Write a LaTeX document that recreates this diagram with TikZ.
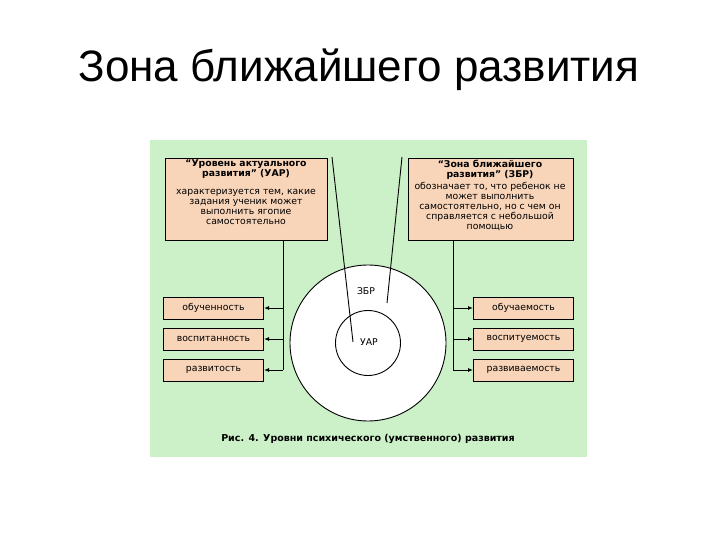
\documentclass[tikz,border=0pt]{standalone}
\usepackage{fontspec}
\setmainfont{Liberation Sans}
\newfontfamily\dv{DejaVu Sans}
\usetikzlibrary{arrows.meta}
\begin{document}
\begin{tikzpicture}[x=1pt,y=-1pt,
  bx/.style={draw,line width=1pt,fill=boxc,inner sep=0pt},
  sm/.style={bx,minimum width=100pt,minimum height=22pt,font=\dv\fontsize{9.3}{10}\selectfont},
  ln/.style={line width=0.9pt},
  ar/.style={ln,-{Latex[length=5pt,width=4pt]}}]
\definecolor{boxc}{RGB}{248,212,184}
\definecolor{grn}{RGB}{204,240,200}
\useasboundingbox (0,0) rectangle (720,540);
\fill[white] (0,0) rectangle (720,540);
\node (title) at (359,70) {\fontsize{44}{48}\selectfont Зона ближайшего развития};
\fill[grn] (150,140) rectangle (587,457);
\node[bx,minimum width=162pt,minimum height=82pt,anchor=north west] (L) at (165,158) {};
\node[bx,minimum width=165pt,minimum height=82pt,anchor=north west] (R) at (408,158) {};
\node[align=center,font=\dv\fontsize{9.3}{10}\selectfont,anchor=north,inner sep=0pt] (Lt) at (246,160)
 {\textbf{“Уровень актуального}\\\textbf{развития” (УАР)}\\[8pt]характеризуется тем, какие\\задания ученик может\\выполнить ягопие\\самостоятельно};
\node[align=center,font=\dv\fontsize{9.3}{10}\selectfont,anchor=north,inner sep=0pt] (Rt) at (490,160)
 {\textbf{“Зона ближайшего}\\\textbf{развития” (ЗБР)}\\[2pt]обозначает то, что ребенок не\\может выполнить\\самостоятельно, но с чем он\\справляется с небольшой\\помощью};
\node[draw,ln,fill=white,circle,minimum size=156pt,inner sep=0pt] (O) at (368,343) {};
\node[draw,ln,circle,minimum size=65pt,inner sep=0pt] (I) at (368,343) {};
\node[font=\dv\fontsize{9.3}{10}\selectfont] (zbr) at (366,291) {ЗБР};
\node[font=\dv\fontsize{9.3}{10}\selectfont] (uar) at (369,342) {УАР};
\coordinate (la) at (332,157); \coordinate (lb) at (353,342);
\coordinate (ra) at (402,157); \coordinate (rb) at (387,303);
\draw[ln] (la) -- (lb);
\draw[ln] (ra) -- (rb);
\node[sm,anchor=west] (l1) at (163,308) {обученность};
\node[sm,anchor=west] (l2) at (163,339) {воспитанность};
\node[sm,anchor=west] (l3) at (163,370) {развитость};
\node[sm,anchor=west] (r1) at (473,308) {обучаемость};
\node[sm,anchor=west] (r2) at (473,339) {воспитуемость};
\node[sm,anchor=west] (r3) at (473,370) {развиваемость};
\coordinate (lv) at (283,240); \coordinate (rv) at (453,240);
\draw[ln] (lv) -- (283,370);
\draw[ln] (rv) -- (453,370);
\foreach \n in {l1,l2,l3} \draw[ar] (283,0 |- \n.east) -- (\n.east);
\foreach \n in {r1,r2,r3} \draw[ar] (453,0 |- \n.west) -- (\n.west);
\node[font=\dv\bfseries\fontsize{9.5}{10}\selectfont] (cap) at (368,439) {Рис. 4. Уровни психического (умственного) развития};
\end{tikzpicture}
\end{document}
